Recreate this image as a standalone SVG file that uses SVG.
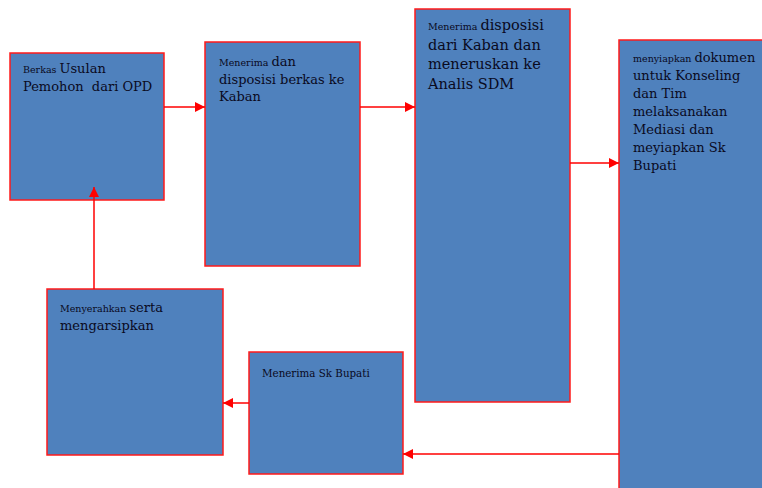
<svg xmlns="http://www.w3.org/2000/svg" width="762" height="488" viewBox="0 0 762 488">
<style>
.box{fill:#4F81BD;stroke:#FF1A1A;stroke-width:1.5}
.t{font-family:"DejaVu Serif","Liberation Serif",serif;fill:#0a0a1e;font-size:13px}
.s{font-size:9.5px}
.b{font-size:14.5px}
.c{stroke:#FF0000;stroke-width:1.5;fill:none;marker-end:url(#ah)}
</style>
<defs>
<marker id="ah" markerWidth="10" markerHeight="10" refX="10" refY="5" orient="auto" markerUnits="userSpaceOnUse">
<path d="M0,0 L10,5 L0,10 Z" fill="#FF0000"/>
</marker>
</defs>
<rect width="762" height="488" fill="#FFFFFF"/>
<g id="n1">
<rect class="box" x="10" y="53" width="154" height="147"/>
<text class="t" x="23" y="73"><tspan class="s">Berkas </tspan>Usulan</text>
<text class="t" x="23" y="91" xml:space="preserve">Pemohon  dari OPD</text>
</g>
<g id="n2">
<rect class="box" x="205" y="42" width="155" height="224"/>
<text class="t" x="219" y="66"><tspan class="s">Menerima </tspan>dan</text>
<text class="t" x="219" y="84">disposisi berkas ke</text>
<text class="t" x="219" y="101">Kaban</text>
</g>
<g id="n3">
<rect class="box" x="415" y="9" width="155" height="393"/>
<text class="t b" x="428" y="30"><tspan class="s">Menerima </tspan>disposisi</text>
<text class="t b" x="428" y="50">dari Kaban dan</text>
<text class="t b" x="428" y="69">meneruskan ke</text>
<text class="t b" x="428" y="89">Analis SDM</text>
</g>
<g id="n4">
<rect class="box" x="619" y="40" width="150" height="460"/>
<text class="t" x="633" y="62"><tspan class="s">menyiapkan </tspan>dokumen</text>
<text class="t" x="633" y="80">untuk Konseling</text>
<text class="t" x="633" y="98">dan Tim</text>
<text class="t" x="633" y="116">melaksanakan</text>
<text class="t" x="633" y="134">Mediasi dan</text>
<text class="t" x="633" y="152">meyiapkan Sk</text>
<text class="t" x="633" y="170">Bupati</text>
</g>
<g id="n5">
<rect class="box" x="47" y="289" width="176" height="166"/>
<text class="t" x="60" y="312"><tspan class="s">Menyerahkan </tspan>serta</text>
<text class="t" x="60" y="330">mengarsipkan</text>
</g>
<g id="n6">
<rect class="box" x="249" y="352" width="154" height="122"/>
<text class="t" x="262" y="377" style="font-size:10.3px">Menerima Sk Bupati</text>
</g>
<g id="connectors">
<line class="c" x1="164" y1="107" x2="205" y2="107"/>
<line class="c" x1="360" y1="107" x2="415" y2="107"/>
<line class="c" x1="570" y1="163" x2="619" y2="163"/>
<line class="c" x1="619" y1="454" x2="403" y2="454"/>
<line class="c" x1="249" y1="403" x2="223" y2="403"/>
<line class="c" x1="94" y1="289" x2="94" y2="187"/>
</g>
</svg>
